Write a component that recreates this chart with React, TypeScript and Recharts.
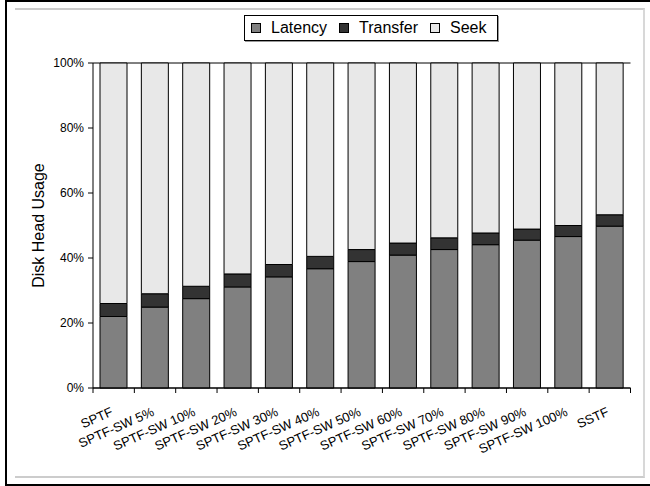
import React from "react";
import { BarChart, Bar, XAxis, YAxis, CartesianGrid, Legend, Label } from "recharts";

const categories = [
    "SPTF",
    "SPTF-SW 5%",
    "SPTF-SW 10%",
    "SPTF-SW 20%",
    "SPTF-SW 30%",
    "SPTF-SW 40%",
    "SPTF-SW 50%",
    "SPTF-SW 60%",
    "SPTF-SW 70%",
    "SPTF-SW 80%",
    "SPTF-SW 90%",
    "SPTF-SW 100%",
    "SSTF",
];
const latency = [22.0, 24.9, 27.5, 31.1, 34.2, 36.7, 38.9, 40.9, 42.6, 44.1, 45.5, 46.6, 49.8];
const transfer = [4.0, 4.1, 3.8, 4.0, 3.8, 3.8, 3.7, 3.7, 3.6, 3.6, 3.4, 3.4, 3.5];
const seek = [74.0, 71.0, 68.7, 64.9, 62.0, 59.5, 57.4, 55.4, 53.8, 52.3, 51.1, 50.0, 46.7];
const yTicks = [0, 20, 40, 60, 80, 100];

const series = [
    { key: "Latency", color: "#808080" },
    { key: "Transfer", color: "#333333" },
    { key: "Seek", color: "#e8e8e8" },
];

const data = categories.map((name, i) => ({
    name,
    Latency: latency[i],
    Transfer: transfer[i],
    Seek: seek[i],
}));

const FONT = "'Liberation Sans', Arial, sans-serif";
const CHART_W = 650;
const CHART_H = 486;
const Y_AXIS_W = 93;
const RIGHT = 19.5;
const BAND = (CHART_W - Y_AXIS_W - RIGHT) / categories.length;

// labels rotated like the Excel original, tick marks sit between the categories
const CategoryTick = ({ x, y, payload, index }: any) => {
    const tx = x;
    const ty = y + 27;
    return (
        <g>
            <line x1={x - BAND / 2} x2={x - BAND / 2} y1={y} y2={y + 5} stroke="#000" />
            {index === categories.length - 1 && (
                <line x1={x + BAND / 2} x2={x + BAND / 2} y1={y} y2={y + 5} stroke="#000" />
            )}
            <text
                x={tx}
                y={ty}
                textAnchor="end"
                fontSize={13}
                fontFamily={FONT}
                fill="#000"
                transform={`rotate(-24, ${tx}, ${ty})`}
            >
                {payload.value}
            </text>
        </g>
    );
};

const LegendBox = () => (
    <div
        style={{
            display: "flex",
            alignItems: "center",
            border: "1px solid #000",
            boxShadow: "1px 1px 0 #999",
            background: "#fff",
            height: 24,
            padding: "0 10px 0 6px",
            fontFamily: FONT,
            fontSize: 16,
            color: "#000",
            whiteSpace: "nowrap",
        }}
    >
        {series.map((s, i) => (
            <span key={s.key} style={{ display: "flex", alignItems: "center", marginRight: i === series.length - 1 ? 0 : 12 }}>
                <span
                    style={{
                        display: "inline-block",
                        width: 8,
                        height: 8,
                        background: s.color,
                        border: "1px solid #000",
                        marginRight: 10,
                    }}
                />
                <span>{s.key}</span>
            </span>
        ))}
    </div>
);

export default function App() {
    return (
        <div style={{ position: "absolute", left: 0, top: 0, width: CHART_W, height: CHART_H, background: "#fff", overflow: "hidden" }}>
            {/* outer frame */}
            <div style={{ position: "absolute", left: 5, top: 0, width: 700, height: 482, border: "2px solid #000", boxSizing: "content-box" }} />
            <div style={{ position: "absolute", left: 15, top: 8, width: 628, height: 466, borderTop: "2px solid #cccccc", borderRight: "2px solid #d8d8d8", borderBottom: "2px solid #cccccc" }} />
            <BarChart
                width={CHART_W}
                height={CHART_H}
                data={data}
                margin={{ top: 63, right: RIGHT, left: 0, bottom: 0 }}
                barSize={27}
                style={{ position: "absolute", left: 0, top: 0 }}
            >
                <CartesianGrid vertical={false} stroke="#000" strokeOpacity={1} />
                <XAxis
                    dataKey="name"
                    interval={0}
                    height={CHART_H - 388}
                    axisLine={{ stroke: "#000" }}
                    tickLine={false}
                    tickSize={0}
                    tickMargin={0}
                    tick={<CategoryTick />}
                />
                <YAxis
                    yAxisId="left"
                    width={Y_AXIS_W}
                    domain={[0, 100]}
                    ticks={yTicks}
                    interval={0}
                    tickFormatter={(v) => `${v}%`}
                    axisLine={{ stroke: "#000" }}
                    tickLine={{ stroke: "#000" }}
                    tickSize={5}
                    tickMargin={4}
                    tick={{ fill: "#000", fontSize: 12, fontFamily: FONT }}
                >
                    <Label
                        value="Disk Head Usage"
                        angle={-90}
                        position="center"
                        dx={-8}
                        style={{ fill: "#000", fontSize: 16, fontFamily: FONT }}
                    />
                </YAxis>
                <YAxis
                    yAxisId="right"
                    orientation="right"
                    width={0}
                    domain={[0, 100]}
                    tick={false}
                    tickLine={false}
                    axisLine={{ stroke: "#000" }}
                />
                <Legend
                    verticalAlign="middle"
                    align="center"
                    content={<LegendBox />}
                    wrapperStyle={{ top: 15, left: 244, width: "auto", height: "auto" }}
                />
                {series.map((s) => (
                    <Bar
                        key={s.key}
                        yAxisId="left"
                        dataKey={s.key}
                        stackId="usage"
                        fill={s.color}
                        stroke="#000"
                        strokeWidth={1}
                        isAnimationActive={false}
                    />
                ))}
            </BarChart>
        </div>
    );
}
